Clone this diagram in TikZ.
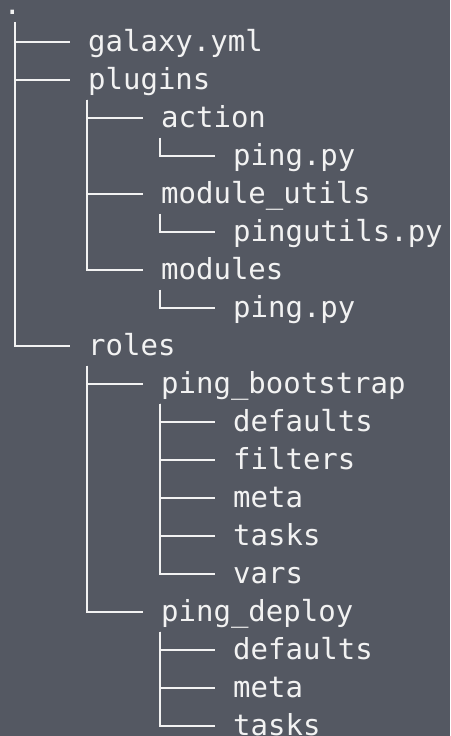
\documentclass[tikz,border=0pt]{standalone}
\usepackage{fontspec}
\newfontfamily\treefont{DejaVu Sans Mono}
\definecolor{bg}{RGB}{84,88,98}
\definecolor{fg}{RGB}{242,242,242}
\newcommand\branchto[2]{\draw[branch] (#1) |- ([xshift=-18pt]#2.west);}
\newcommand\stemof[2]{\coordinate (#1) at ([xshift=-1pt,yshift=-20pt]#2.west);}
\begin{document}
\begin{tikzpicture}[x=1pt,y=-1pt,
  entry/.style={anchor=west, inner sep=0pt, text height=19pt, text depth=0pt,
    text=fg, font=\treefont\fontsize{29}{29}\selectfont},
  branch/.style={draw=fg, line width=2pt, line join=miter}]
\fill[bg] (0,0) rectangle (450,736);
\useasboundingbox (0,0) rectangle (450,736);
% root
\node[anchor=base, inner sep=0pt, text height=4pt, text depth=0pt, text=fg,
  font=\treefont\fontsize{29}{29}\selectfont] (root) at (12.3,14.5) {.};
\coordinate (rootstem) at (14.5,22);
% level 1
\node[entry] (galaxy)  at (88,41.7)  {galaxy.yml};
\node[entry] (plugins) at (88,79.7)  {plugins};
\node[entry] (roles)   at (88,345.7) {roles};
% plugins children
\node[entry] (action)  at (161,117.7) {action};
\node[entry] (actping) at (233,155.7) {ping.py};
\node[entry] (mutils)  at (161,193.7) {module\_utils};
\node[entry] (pingut)  at (233,231.7) {pingutils.py};
\node[entry] (modules) at (161,269.7) {modules};
\node[entry] (modping) at (233,307.7) {ping.py};
% roles children
\node[entry] (boot)     at (161,383.7) {ping\_bootstrap};
\node[entry] (bdefaults) at (233,421.7) {defaults};
\node[entry] (bfilters) at (233,459.7) {filters};
\node[entry] (bmeta)    at (233,497.7) {meta};
\node[entry] (btasks)   at (233,535.7) {tasks};
\node[entry] (bvars)    at (233,573.7) {vars};
\node[entry] (deploy)   at (161,611.7) {ping\_deploy};
\node[entry] (ddefaults) at (233,649.7) {defaults};
\node[entry] (dmeta)    at (233,687.7) {meta};
\node[entry] (dtasks)   at (233,725.7) {tasks};
% stems
\stemof{pluginsstem}{plugins}
\stemof{actionstem}{action}
\stemof{mutilsstem}{mutils}
\stemof{modulesstem}{modules}
\stemof{rolesstem}{roles}
\stemof{bootstem}{boot}
\stemof{deploystem}{deploy}
% branches
\branchto{rootstem}{galaxy}
\branchto{rootstem}{plugins}
\branchto{rootstem}{roles}
\branchto{pluginsstem}{action}
\branchto{pluginsstem}{mutils}
\branchto{pluginsstem}{modules}
\branchto{actionstem}{actping}
\branchto{mutilsstem}{pingut}
\branchto{modulesstem}{modping}
\branchto{rolesstem}{boot}
\branchto{rolesstem}{deploy}
\branchto{bootstem}{bdefaults}
\branchto{bootstem}{bfilters}
\branchto{bootstem}{bmeta}
\branchto{bootstem}{btasks}
\branchto{bootstem}{bvars}
\branchto{deploystem}{ddefaults}
\branchto{deploystem}{dmeta}
\branchto{deploystem}{dtasks}
\end{tikzpicture}
\end{document}
